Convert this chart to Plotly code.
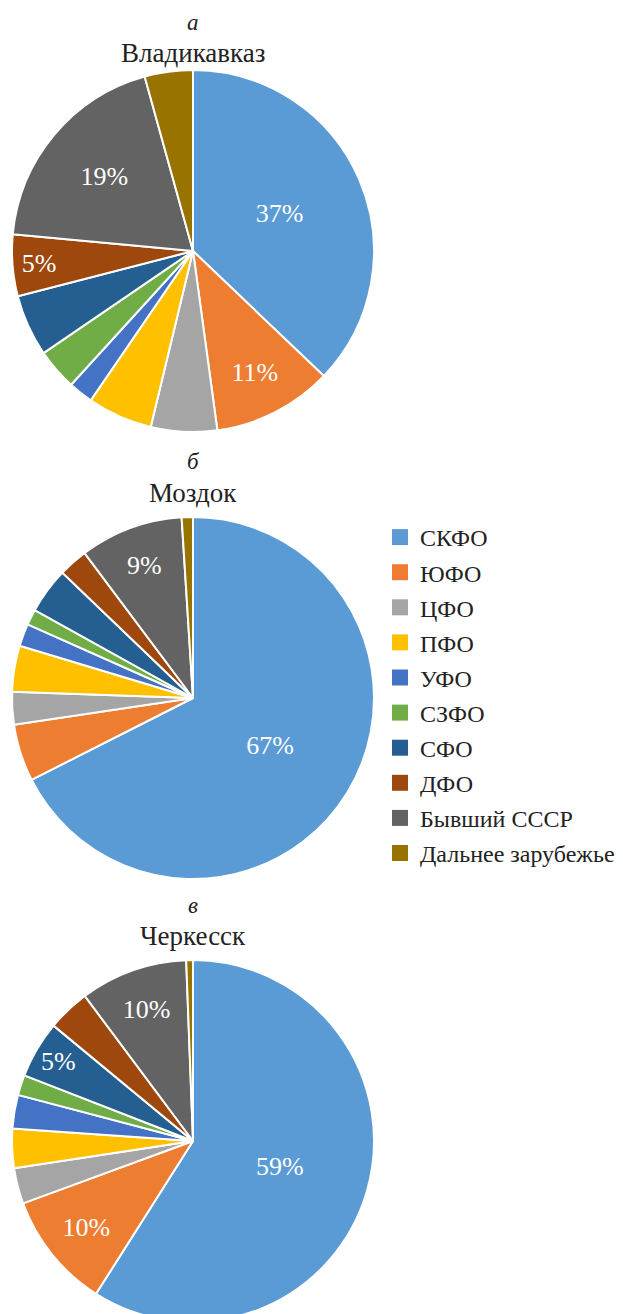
import plotly.graph_objects as go

categories = ["СКФО", "ЮФО", "ЦФО", "ПФО", "УФО", "СЗФО", "СФО", "ДФО",
              "Бывший СССР", "Дальнее зарубежье"]
colors = ["#5B9BD5", "#ED7D31", "#A5A5A5", "#FFC000", "#4472C4", "#70AD47",
          "#255E91", "#9E480E", "#636363", "#997300"]

vladikavkaz = [37.1, 10.7, 5.9, 5.8, 2.2, 3.7, 5.5, 5.5, 19.2, 4.3]
vladikavkaz_text = ["37%", "11%", "", "", "", "", "", "5%", "19%", ""]

mozdok = [67.4, 5.1, 2.9, 4.1, 2.0, 1.4, 4.1, 2.6, 9.2, 1.0]
mozdok_text = ["67%", "", "", "", "", "", "", "", "9%", ""]

cherkessk = [59.0, 10.4, 3.2, 3.5, 3.0, 1.8, 5.1, 3.8, 9.6, 0.6]
cherkessk_text = ["59%", "10%", "", "", "", "", "5%", "", "10%", ""]

letters = ["а", "б", "в"]
cities = ["Владикавказ", "Моздок", "Черкесск"]

W, H = 623, 1314
OFF = 8  # default page body margin
FONT = "Liberation Serif"
TXT = "#222222"


def xp(px):
    return (px - OFF) / W


def yp(px):
    return 1 - (px - OFF) / H


pies = [
    (vladikavkaz, vladikavkaz_text, (12, 374), (70, 432)),
    (mozdok, mozdok_text, (12, 374), (517, 879)),
    (cherkessk, cherkessk_text, (12, 374), (960, 1322)),
]

fig = go.Figure()
for vals, txt, (x0, x1), (y0, y1) in pies:
    fig.add_trace(go.Pie(
        labels=categories, values=vals, text=txt,
        texttemplate="%{text}", textinfo="text",
        textposition="inside", insidetextorientation="horizontal",
        sort=False, direction="clockwise", rotation=0,
        marker=dict(colors=colors, line=dict(color="white", width=2)),
        textfont=dict(family=FONT, size=26, color="white"),
        domain=dict(x=[xp(x0), xp(x1)], y=[max(0, yp(y1)), yp(y0)]),
        showlegend=False, hoverinfo="label+percent",
    ))

# legend entries
for cat, col in zip(categories, colors):
    fig.add_trace(go.Scatter(
        x=[None], y=[None], mode="markers", name=cat, legendgroup=cat,
        marker=dict(symbol="square", size=18, color=col),
    ))

# letter (y, anchor), city centre y
letter_pos = [(OFF, "top"), (461, "middle"), (905, "middle")]
city_pos = [53, 493, 936]
for let, city, (ly, lanchor), cy in zip(letters, cities, letter_pos, city_pos):
    fig.add_annotation(x=xp(193), y=yp(ly), xref="paper", yref="paper",
                       xanchor="center", yanchor=lanchor,
                       text=f"<i>{let}</i>", showarrow=False,
                       font=dict(family=FONT, size=23, color=TXT))
    fig.add_annotation(x=xp(193), y=yp(cy), xref="paper", yref="paper",
                       xanchor="center", yanchor="middle",
                       text=city, showarrow=False,
                       font=dict(family=FONT, size=27, color=TXT))

fig.update_layout(
    width=W, height=H,
    margin=dict(l=0, r=0, t=0, b=0),
    paper_bgcolor="white", plot_bgcolor="white",
    xaxis=dict(visible=False), yaxis=dict(visible=False),
    uniformtext=dict(minsize=26, mode="show"),
    legend=dict(x=xp(380), y=yp(515), xanchor="left", yanchor="top",
                font=dict(family=FONT, size=24, color=TXT),
                tracegroupgap=0.9, bgcolor="rgba(0,0,0,0)"),
)

fig.write_html("out.html")
